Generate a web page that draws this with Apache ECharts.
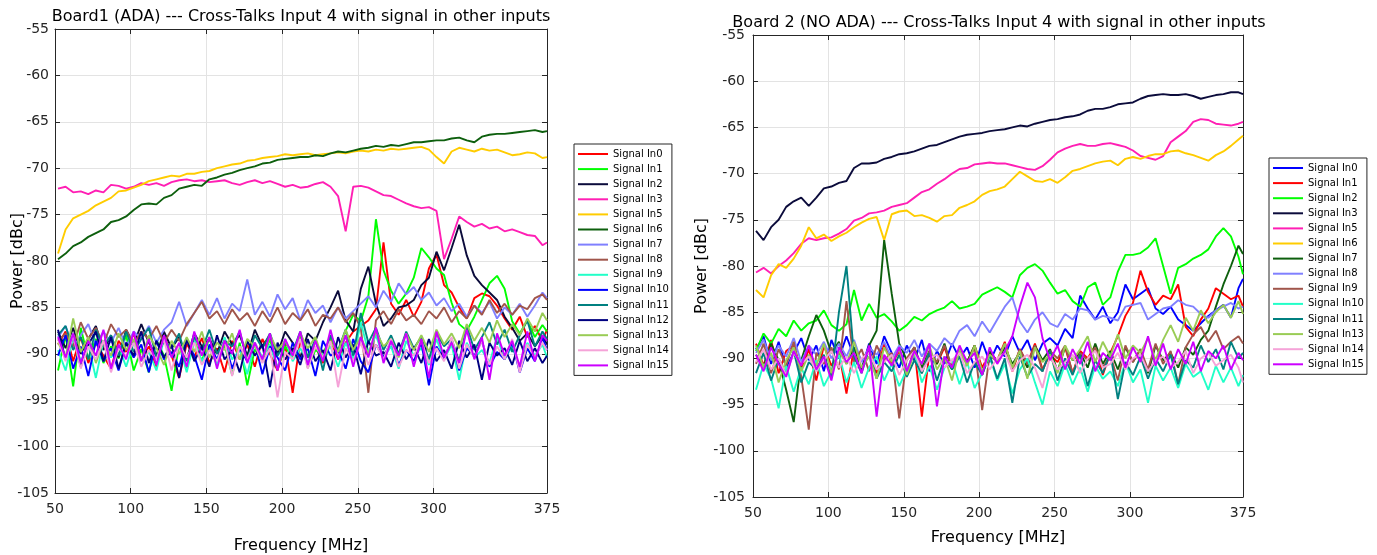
<!DOCTYPE html>
<html><head><meta charset="utf-8">
<script src="https://cdn.jsdelivr.net/npm/echarts@6/dist/echarts.min.js"></script>
<style>html,body{margin:0;padding:0;background:#fff}#c{width:1377px;height:555px}</style>
</head><body><div id="c"></div>
<script>
// Frequency samples [MHz]
const freq = [52,57,62,67,72,77,82,87,92,97,102,107,112,117,122,127,132,137,142,147,152,157,162,167,172,177,182,187,192,197,202,207,212,217,222,227,232,237,242,247,252,257,262,267,272,277,282,287,292,297,302,307,312,317,322,327,332,337,342,347,352,357,362,367,372,375];
const xTickValues = [50,100,150,200,250,300,375];

// ---------- Board 1 (ADA) ----------
const b1Names = ['Signal In0','Signal In1','Signal In2','Signal In3','Signal In5','Signal In6','Signal In7','Signal In8','Signal In9','Signal In10','Signal In11','Signal In12','Signal In13','Signal In14','Signal In15'];
const b1_in0 = [-89.0,-87.6,-90.8,-88.2,-91.0,-88.8,-90.2,-91.6,-88.6,-89.8,
-87.8,-90.6,-89.2,-91.4,-88.0,-90.2,-92.6,-88.9,-90.4,-88.3,
-91.0,-89.4,-92.0,-88.6,-90.6,-89.0,-91.4,-88.4,-90.0,-91.8,
-89.0,-94.2,-88.6,-90.4,-89.2,-91.0,-88.5,-90.6,-88.8,-87.6,
-87.0,-86.4,-85.2,-78.0,-84.6,-85.8,-84.2,-86.0,-84.4,-80.8,
-79.3,-82.6,-83.4,-85.0,-86.2,-84.0,-83.5,-83.8,-84.8,-86.2,
-87.4,-86.0,-88.2,-87.0,-88.6,-87.4];
const b1_in1 = [-91.8,-88.0,-93.5,-87.2,-90.6,-88.4,-91.0,-89.2,-90.5,-88.0,
-91.8,-89.5,-92.0,-88.5,-90.2,-94.0,-89.0,-91.5,-88.6,-90.8,
-88.2,-91.2,-89.0,-92.3,-88.8,-93.4,-89.5,-90.7,-88.4,-91.6,
-89.2,-90.4,-88.0,-91.5,-89.6,-90.0,-88.2,-89.8,-87.5,-85.8,
-86.5,-83.8,-75.5,-81.0,-83.2,-84.6,-83.5,-81.8,-78.6,-79.6,
-80.8,-81.5,-84.5,-86.8,-87.5,-86.0,-84.2,-82.4,-81.6,-83.0,
-86.5,-87.8,-86.4,-88.2,-86.9,-87.6];
const b1_in2 = [-87.6,-89.4,-87.2,-90.0,-88.4,-87.0,-89.6,-88.0,-90.4,-87.4,
-89.0,-86.8,-88.8,-90.2,-87.6,-89.4,-88.2,-90.6,-87.8,-89.2,
-88.4,-90.0,-87.6,-89.0,-88.0,-90.2,-87.4,-89.2,-88.0,-90.0,
-87.6,-88.8,-90.4,-87.8,-88.6,-86.6,-85.0,-83.2,-86.4,-87.6,
-83.0,-80.6,-84.6,-87.0,-86.2,-85.0,-84.8,-84.2,-82.6,-81.8,
-79.0,-81.0,-78.6,-76.1,-79.4,-81.6,-82.6,-83.4,-84.2,-86.0,
-87.2,-88.6,-87.8,-89.2,-88.0,-89.0];
const b1_in3 = [-72.2,-72.0,-72.6,-72.5,-72.8,-72.4,-72.6,-71.8,-71.9,-72.2,
-72.0,-71.6,-71.8,-71.6,-71.9,-71.5,-71.3,-71.2,-71.4,-71.3,
-71.5,-71.4,-71.3,-71.6,-71.8,-71.5,-71.3,-71.6,-71.4,-71.7,
-72.0,-71.8,-72.1,-72.0,-71.7,-71.5,-72.0,-73.0,-76.8,-72.0,
-71.9,-72.1,-72.5,-72.9,-73.0,-73.4,-73.8,-74.1,-74.3,-74.2,
-74.6,-79.8,-77.6,-75.2,-75.8,-76.3,-76.0,-76.5,-76.3,-76.8,
-76.6,-76.9,-77.2,-77.3,-78.3,-78.0];
const b1_in5 = [-79.2,-76.6,-75.4,-75.0,-74.6,-74.0,-73.6,-73.2,-72.5,-72.4,
-72.1,-71.8,-71.4,-71.2,-71.0,-70.8,-70.9,-70.6,-70.6,-70.4,
-70.3,-70.0,-69.8,-69.6,-69.5,-69.2,-69.1,-68.9,-68.8,-68.7,
-68.5,-68.6,-68.5,-68.4,-68.6,-68.5,-68.4,-68.3,-68.4,-68.2,
-68.1,-68.2,-68.0,-68.1,-67.9,-68.0,-67.9,-67.8,-67.7,-68.0,
-68.8,-69.5,-68.2,-67.8,-68.0,-68.2,-67.9,-68.1,-68.0,-68.3,
-68.6,-68.5,-68.3,-68.4,-68.9,-68.8];
const b1_in6 = [-79.8,-79.2,-78.4,-78.0,-77.4,-77.0,-76.6,-75.8,-75.6,-75.2,
-74.5,-73.9,-73.8,-73.9,-73.2,-72.9,-72.2,-72.0,-71.8,-71.9,
-71.2,-71.0,-70.7,-70.5,-70.2,-70.0,-69.8,-69.5,-69.4,-69.1,
-69.0,-68.9,-68.8,-68.8,-68.6,-68.7,-68.4,-68.2,-68.3,-68.1,
-67.9,-67.8,-67.6,-67.7,-67.5,-67.6,-67.4,-67.2,-67.2,-67.1,
-67.0,-67.0,-66.8,-66.7,-67.0,-67.2,-66.6,-66.4,-66.3,-66.3,
-66.2,-66.1,-66.0,-65.9,-66.1,-66.0];
const b1_in7 = [-88.2,-87.0,-89.4,-88.0,-86.8,-89.0,-87.6,-88.8,-87.2,-89.2,
-87.6,-88.4,-87.0,-88.8,-87.4,-86.6,-84.4,-87.0,-85.6,-84.2,
-85.8,-84.0,-86.2,-84.6,-85.4,-82.0,-85.8,-84.4,-86.0,-83.6,
-85.2,-84.0,-86.4,-84.2,-85.6,-84.8,-86.6,-85.0,-86.2,-85.4,
-84.6,-83.8,-85.0,-83.2,-84.4,-82.4,-83.6,-82.8,-84.2,-83.4,
-84.8,-84.0,-85.4,-84.6,-86.0,-84.8,-85.6,-84.4,-86.2,-85.0,
-85.8,-84.6,-86.0,-84.8,-83.4,-84.0];
const b1_in8 = [-88.6,-87.8,-89.2,-86.6,-88.4,-87.2,-89.0,-86.8,-88.2,-87.4,
-89.0,-87.6,-88.4,-87.0,-88.8,-87.4,-88.6,-86.8,-85.6,-84.4,
-86.2,-85.4,-86.8,-85.2,-86.4,-85.6,-87.0,-85.4,-86.6,-85.0,
-86.8,-85.6,-86.4,-85.2,-87.0,-85.8,-86.2,-85.0,-86.6,-85.6,
-87.2,-94.2,-86.4,-85.4,-86.8,-85.2,-86.4,-85.8,-86.8,-85.4,
-86.2,-85.0,-86.6,-85.4,-86.2,-84.8,-85.8,-84.2,-85.6,-84.6,
-85.8,-84.8,-85.2,-84.0,-83.6,-84.2];
const b1_in9 = [-89.6,-91.8,-88.2,-90.8,-89.0,-92.6,-88.6,-90.4,-89.2,-91.4,
-88.8,-90.6,-89.8,-91.8,-88.4,-90.2,-89.0,-92.0,-88.6,-90.8,
-89.4,-91.2,-88.2,-90.6,-89.6,-92.2,-88.8,-90.4,-89.0,-91.6,
-88.4,-90.8,-89.4,-91.0,-88.6,-90.2,-89.2,-91.4,-88.8,-90.6,
-86.6,-89.8,-88.0,-90.4,-89.2,-91.6,-88.6,-90.2,-89.4,-91.2,
-88.4,-90.6,-89.0,-92.8,-88.8,-90.4,-89.6,-91.0,-88.2,-90.6,
-89.2,-91.4,-88.8,-90.2,-89.0,-90.4];
const b1_in10 = [-90.2,-88.0,-91.6,-89.2,-92.4,-88.6,-90.8,-89.4,-91.8,-88.8,
-90.4,-89.0,-92.0,-88.6,-90.6,-89.8,-91.4,-88.4,-90.2,-92.8,
-89.0,-90.6,-88.6,-91.6,-89.4,-90.8,-88.8,-92.2,-89.2,-90.4,
-91.8,-88.8,-90.6,-89.4,-92.4,-88.6,-90.2,-89.6,-91.6,-88.4,
-90.8,-92.0,-89.0,-90.4,-88.6,-91.2,-89.6,-90.8,-88.8,-93.4,
-89.2,-90.6,-88.4,-91.8,-89.4,-90.2,-88.6,-91.4,-89.8,-90.6,
-88.8,-92.0,-89.4,-90.8,-88.2,-89.6];
const b1_in11 = [-88.0,-87.0,-89.6,-88.2,-90.6,-87.4,-89.2,-88.0,-90.2,-87.6,
-89.8,-88.4,-87.2,-90.4,-88.6,-89.4,-87.8,-90.8,-88.2,-89.6,
-87.4,-90.0,-88.6,-89.2,-87.6,-90.6,-88.0,-89.4,-87.8,-90.2,
-88.8,-89.8,-87.6,-90.4,-88.4,-91.8,-88.0,-89.6,-87.4,-90.2,
-85.6,-88.8,-87.2,-89.6,-88.0,-90.0,-87.6,-89.4,-88.2,-90.6,
-87.8,-89.2,-88.4,-90.8,-87.0,-89.6,-88.2,-86.6,-89.0,-87.4,
-89.8,-88.0,-86.4,-89.2,-87.6,-88.4];
const b1_in12 = [-87.4,-90.6,-88.0,-91.4,-89.0,-87.6,-90.8,-88.2,-91.6,-88.8,
-90.2,-87.6,-91.0,-88.6,-90.4,-89.0,-92.6,-88.4,-90.8,-89.2,
-91.4,-88.0,-90.6,-89.6,-92.0,-88.6,-90.2,-89.0,-93.6,-88.8,
-90.6,-89.4,-91.2,-88.4,-90.8,-89.6,-91.8,-88.2,-90.4,-89.0,
-92.2,-88.6,-90.2,-89.8,-91.4,-88.8,-90.6,-89.2,-91.0,-88.4,
-90.8,-89.6,-91.6,-88.6,-90.4,-89.0,-92.8,-88.8,-90.2,-89.4,
-91.2,-88.6,-90.8,-89.4,-91.0,-90.2];
const b1_in13 = [-88.8,-90.4,-86.2,-89.8,-88.2,-91.0,-88.6,-90.2,-87.8,-89.6,
-88.4,-90.8,-88.0,-89.4,-91.2,-88.6,-90.0,-88.2,-89.8,-87.6,
-90.4,-88.8,-89.6,-87.8,-90.6,-88.4,-89.2,-90.8,-88.0,-89.6,
-88.6,-90.2,-87.8,-89.4,-88.2,-90.6,-88.8,-89.8,-87.4,-89.6,
-88.2,-90.0,-87.6,-89.2,-88.4,-90.4,-87.8,-89.6,-88.0,-89.8,
-87.4,-89.0,-87.8,-89.4,-86.8,-88.6,-87.2,-88.8,-86.4,-88.2,
-86.8,-88.0,-86.2,-87.6,-85.6,-86.4];
const b1_in14 = [-88.4,-90.8,-88.0,-91.6,-89.2,-90.6,-88.6,-92.0,-89.4,-90.2,
-88.8,-91.4,-89.6,-90.6,-88.4,-91.8,-89.0,-90.4,-88.8,-91.2,
-89.6,-90.8,-88.6,-92.4,-89.2,-90.6,-88.8,-91.0,-89.4,-94.7,
-89.8,-90.6,-88.4,-91.6,-89.2,-90.4,-88.6,-93.6,-89.4,-90.8,
-88.8,-91.2,-89.0,-90.6,-88.4,-91.4,-89.6,-90.2,-88.6,-91.0,
-89.4,-90.8,-88.2,-91.6,-89.0,-90.4,-88.6,-91.2,-89.2,-90.6,
-88.4,-92.0,-89.0,-90.4,-88.8,-89.6];
const b1_in15 = [-88.2,-90.4,-87.8,-91.0,-88.6,-90.2,-87.4,-91.6,-89.0,-90.6,
-87.6,-90.8,-88.4,-91.2,-88.0,-90.4,-88.8,-91.4,-87.6,-90.2,
-88.2,-91.6,-88.6,-90.0,-87.4,-91.0,-88.8,-90.6,-87.8,-91.8,
-88.4,-90.2,-87.6,-91.2,-88.6,-90.8,-87.4,-90.6,-88.0,-91.4,
-88.2,-90.4,-87.2,-91.0,-88.6,-90.2,-87.8,-91.4,-88.4,-92.6,
-87.6,-90.4,-88.8,-91.0,-87.4,-90.6,-88.2,-92.8,-87.8,-90.2,
-88.6,-91.4,-87.6,-90.8,-88.0,-88.6];
const b1Values = [b1_in0,b1_in1,b1_in2,b1_in3,b1_in5,b1_in6,b1_in7,b1_in8,b1_in9,b1_in10,b1_in11,b1_in12,b1_in13,b1_in14,b1_in15];
const b1Colors = ['#ff0000','#00ff00','#0b0b3b','#ff1fb4','#ffcc00','#0d5f0d','#8080ff','#a0554b','#22ffc8','#0000ff','#008080','#000080','#99cc55','#f5a3d8','#cc00ff'];

// ---------- Board 2 (NO ADA) ----------
const b2Names = ['Signal In0','Signal In1','Signal In2','Signal In3','Signal In5','Signal In6','Signal In7','Signal In8','Signal In9','Signal In10','Signal In11','Signal In13','Signal In14','Signal In15'];
const b2_in0 = [-89.0,-87.6,-90.6,-88.2,-91.0,-89.4,-87.8,-90.2,-88.6,-91.4,
-88.0,-90.0,-87.6,-89.8,-91.2,-88.4,-90.6,-87.6,-89.4,-91.0,
-88.6,-90.2,-88.0,-91.4,-89.2,-90.6,-88.4,-90.0,-88.8,-91.0,
-88.2,-90.4,-88.6,-89.8,-87.6,-89.4,-88.0,-90.2,-88.4,-87.8,
-88.6,-86.8,-87.8,-83.2,-84.6,-85.8,-84.4,-86.2,-85.0,-82.0,
-83.6,-83.0,-82.4,-84.6,-85.2,-84.4,-85.8,-86.4,-87.0,-86.2,
-85.4,-84.8,-84.2,-85.6,-82.4,-81.4];
const b2_in1 = [-88.4,-90.8,-88.0,-91.6,-89.2,-88.6,-91.2,-89.0,-92.4,-88.6,
-90.8,-89.4,-93.8,-88.8,-90.2,-89.0,-91.6,-88.4,-90.6,-89.2,
-91.8,-88.8,-96.3,-89.4,-90.6,-88.8,-91.2,-89.0,-90.4,-88.6,
-91.0,-89.4,-90.2,-88.2,-91.4,-89.0,-90.6,-88.4,-91.2,-89.6,
-90.4,-88.8,-91.6,-89.2,-90.0,-88.6,-91.8,-89.4,-87.6,-85.4,
-84.0,-80.5,-82.8,-84.2,-83.2,-83.6,-82.0,-86.6,-87.6,-85.8,
-84.6,-82.4,-83.0,-83.6,-83.2,-84.4];
const b2_in2 = [-89.2,-87.3,-88.4,-86.8,-87.6,-85.9,-87.0,-86.2,-85.9,-84.8,
-86.4,-87.0,-86.3,-82.6,-85.9,-84.1,-85.6,-85.2,-86.0,-87.0,
-86.4,-85.5,-85.9,-85.2,-84.8,-84.5,-83.8,-84.6,-84.4,-84.1,
-83.1,-82.7,-82.3,-82.8,-83.4,-81.0,-80.2,-79.8,-80.5,-81.8,
-83.0,-82.6,-83.8,-84.4,-82.3,-81.8,-84.2,-83.4,-80.6,-78.8,
-78.8,-78.6,-78.0,-77.0,-80.0,-83.0,-80.2,-79.8,-79.2,-78.8,
-78.2,-76.8,-75.9,-76.8,-79.0,-80.9];
const b2_in3 = [-76.2,-77.2,-75.8,-75.0,-73.6,-73.0,-72.6,-73.5,-72.6,-71.6,
-71.4,-71.0,-70.8,-69.4,-68.9,-68.9,-68.8,-68.4,-68.2,-67.9,
-67.8,-67.6,-67.3,-67.0,-66.9,-66.6,-66.3,-66.0,-65.8,-65.7,
-65.6,-65.4,-65.3,-65.2,-65.0,-64.8,-64.9,-64.6,-64.4,-64.2,
-64.1,-63.9,-63.8,-63.6,-63.2,-63.0,-63.0,-62.8,-62.5,-62.4,
-62.3,-61.9,-61.6,-61.5,-61.4,-61.5,-61.5,-61.4,-61.6,-61.9,
-61.7,-61.5,-61.4,-61.2,-61.2,-61.4];
const b2_in5 = [-80.7,-80.2,-80.8,-80.0,-79.4,-78.6,-77.6,-77.0,-77.2,-77.0,
-76.9,-76.5,-76.0,-75.1,-74.8,-74.3,-74.2,-74.0,-73.6,-73.4,
-73.2,-72.6,-72.0,-71.7,-71.1,-70.6,-70.0,-69.5,-69.4,-69.0,
-68.9,-68.8,-68.9,-68.9,-69.1,-69.3,-69.5,-69.6,-69.2,-68.5,
-67.7,-67.3,-67.0,-66.8,-67.0,-67.0,-66.8,-66.7,-66.9,-67.1,
-67.5,-68.1,-68.3,-68.5,-68.1,-66.6,-66.0,-65.4,-64.4,-64.1,
-64.2,-64.6,-64.7,-64.8,-64.6,-64.4];
const b2_in6 = [-82.6,-83.4,-81.0,-79.8,-80.2,-79.2,-77.8,-75.8,-77.0,-76.6,
-77.3,-76.8,-76.4,-75.8,-75.3,-74.9,-74.7,-77.2,-74.4,-74.1,
-74.0,-74.6,-74.5,-74.8,-75.2,-74.6,-74.5,-73.7,-73.4,-73.0,
-72.3,-71.9,-71.7,-71.4,-70.6,-69.8,-70.3,-70.8,-70.9,-70.6,
-71.0,-70.4,-69.7,-69.5,-69.2,-68.9,-68.7,-68.6,-69.1,-68.4,
-68.2,-68.4,-68.1,-67.9,-67.9,-67.6,-67.5,-67.8,-68.0,-68.3,
-68.6,-68.0,-67.6,-67.0,-66.3,-65.9];
const b2_in7 = [-89.6,-91.0,-88.4,-90.2,-93.4,-96.9,-90.2,-87.6,-85.3,-87.0,
-89.4,-88.2,-90.6,-88.8,-91.2,-88.6,-87.0,-77.2,-83.0,-88.4,
-90.2,-88.8,-91.0,-89.2,-90.6,-88.4,-91.2,-89.0,-90.4,-88.6,
-91.8,-89.2,-90.4,-88.8,-90.6,-89.4,-91.0,-88.6,-90.2,-89.0,
-91.4,-88.8,-90.2,-89.4,-91.0,-88.4,-90.6,-89.2,-91.2,-88.8,
-90.4,-89.0,-91.6,-88.6,-90.2,-89.4,-91.0,-88.8,-89.6,-88.0,
-87.0,-84.4,-82.0,-80.0,-77.8,-78.7];
const b2_in8 = [-89.4,-88.0,-90.2,-88.6,-89.8,-87.8,-90.4,-88.6,-89.6,-88.2,
-90.0,-88.4,-89.8,-88.0,-90.4,-88.8,-89.6,-88.2,-90.0,-88.6,
-89.4,-88.0,-89.8,-88.4,-89.2,-87.8,-88.6,-87.0,-86.4,-87.6,
-86.0,-87.2,-85.8,-84.4,-83.4,-86.0,-87.2,-85.8,-85.0,-86.2,
-86.6,-85.2,-85.8,-84.6,-84.8,-85.8,-85.4,-85.6,-85.9,-84.4,
-84.2,-84.0,-85.8,-85.2,-84.6,-84.4,-83.7,-84.2,-84.4,-85.2,
-85.6,-84.8,-84.4,-84.0,-84.6,-84.4];
const b2_in9 = [-90.6,-88.4,-91.6,-89.0,-90.8,-88.2,-92.0,-97.7,-89.4,-90.6,
-88.8,-91.2,-83.8,-90.4,-89.0,-91.4,-88.6,-90.2,-89.4,-96.5,
-90.0,-88.8,-91.6,-89.2,-90.4,-88.6,-91.0,-89.4,-90.6,-88.8,
-95.6,-89.6,-90.4,-88.4,-91.2,-89.0,-90.6,-88.6,-91.4,-89.2,
-90.0,-88.6,-91.6,-89.4,-90.2,-88.8,-91.0,-89.6,-92.4,-88.6,
-90.4,-89.0,-91.2,-88.4,-90.6,-89.2,-92.8,-88.8,-87.4,-86.6,
-88.2,-87.0,-89.0,-88.2,-87.6,-88.4];
const b2_in10 = [-93.4,-90.6,-92.2,-95.4,-90.8,-93.6,-91.0,-92.8,-90.2,-93.0,
-91.4,-89.6,-92.6,-90.4,-93.2,-91.0,-89.8,-92.4,-90.6,-93.0,
-91.2,-89.4,-92.6,-90.8,-93.4,-91.0,-90.2,-92.8,-90.4,-93.2,
-91.6,-89.8,-92.4,-90.6,-93.8,-91.2,-90.0,-92.6,-95.0,-91.4,
-93.0,-90.6,-92.8,-91.0,-93.6,-90.8,-92.2,-91.4,-93.0,-90.4,
-92.6,-91.2,-94.8,-90.8,-92.4,-91.0,-93.2,-90.6,-92.0,-91.4,
-93.4,-90.8,-92.6,-91.0,-93.0,-91.8];
const b2_in11 = [-91.6,-89.4,-92.4,-90.0,-91.8,-89.2,-92.6,-90.4,-91.2,-89.6,
-92.0,-85.0,-80.0,-89.8,-91.6,-89.0,-92.2,-90.4,-91.4,-89.6,
-92.0,-90.2,-91.6,-89.4,-92.4,-90.0,-91.2,-89.8,-92.6,-90.4,
-91.8,-89.6,-92.2,-90.0,-94.8,-89.8,-92.0,-90.6,-91.4,-89.2,
-92.4,-90.0,-91.8,-89.6,-93.0,-90.2,-91.6,-89.4,-94.4,-90.4,
-91.8,-89.8,-92.2,-90.0,-91.4,-89.6,-92.8,-90.2,-91.0,-88.6,
-90.4,-89.0,-91.2,-88.2,-90.0,-89.4];
const b2_in13 = [-88.6,-91.0,-89.4,-92.6,-90.2,-88.8,-91.4,-89.6,-90.8,-88.4,
-91.6,-89.2,-90.6,-88.2,-91.0,-89.8,-92.2,-88.8,-90.4,-89.0,
-91.8,-89.4,-90.6,-88.6,-91.2,-89.8,-92.4,-89.0,-90.8,-88.6,
-91.4,-89.6,-90.2,-88.4,-91.0,-89.2,-92.2,-88.8,-90.4,-89.6,
-91.6,-88.6,-90.2,-89.0,-87.6,-90.4,-88.2,-89.8,-87.4,-90.0,
-88.6,-89.4,-87.8,-90.2,-88.0,-86.4,-88.2,-85.6,-87.0,-84.8,
-86.2,-85.0,-84.2,-85.6,-83.8,-85.2];
const b2_in14 = [-90.4,-89.0,-91.2,-90.0,-91.8,-89.4,-90.6,-89.8,-91.4,-90.2,
-89.2,-91.0,-89.8,-91.6,-90.0,-89.4,-91.2,-90.4,-89.6,-91.8,
-90.2,-89.2,-91.4,-90.0,-89.6,-91.0,-90.2,-89.4,-91.6,-90.4,
-89.8,-91.2,-90.0,-89.4,-91.4,-90.2,-89.6,-91.0,-93.2,-89.8,
-91.2,-90.4,-89.6,-91.6,-90.0,-89.2,-91.0,-90.6,-89.4,-91.2,
-90.0,-89.6,-91.4,-90.2,-89.8,-91.0,-90.4,-89.2,-91.6,-90.0,
-89.4,-90.8,-90.2,-89.6,-91.0,-92.6];
const b2_in15 = [-89.6,-91.4,-88.8,-90.6,-92.0,-89.2,-90.8,-88.6,-91.2,-89.8,
-92.4,-88.8,-90.4,-89.4,-91.6,-88.6,-96.3,-89.6,-90.8,-88.8,
-91.4,-89.2,-90.6,-88.4,-95.2,-89.8,-91.0,-88.6,-90.4,-89.4,
-91.8,-88.8,-90.6,-89.2,-87.6,-84.4,-81.8,-83.4,-87.8,-90.2,
-88.6,-91.2,-89.0,-90.6,-88.2,-91.4,-89.4,-90.2,-88.4,-91.0,
-88.8,-90.4,-87.6,-90.8,-88.4,-91.2,-89.0,-90.6,-88.2,-91.4,
-89.2,-90.0,-88.6,-91.2,-89.4,-90.2];
const b2Values = [b2_in0,b2_in1,b2_in2,b2_in3,b2_in5,b2_in6,b2_in7,b2_in8,b2_in9,b2_in10,b2_in11,b2_in13,b2_in14,b2_in15];
const b2Colors = ['#0000ff','#ff0000','#00ff00','#0b0b3b','#ff1fb4','#ffcc00','#0d5f0d','#8080ff','#a0554b','#22ffc8','#008080','#99cc55','#f5a3d8','#cc00ff'];

// ---------- Chart ----------
const FONT = 'DejaVu Sans';
const AX = '#262626';
function xAxes(gi, nameGap) {
  return [{
    gridIndex: gi, type: 'value', min: 50, max: 375, position: 'bottom',
    axisLine: {show: true, onZero: false, lineStyle: {color: AX, width: 1}},
    axisTick: {show: true, inside: true, length: 5, customValues: xTickValues, lineStyle: {color: AX}},
    axisLabel: {customValues: xTickValues, color: AX, fontSize: 14, fontFamily: FONT, margin: 9},
    splitLine: {show: true, lineStyle: {color: '#e3e3e3', width: 1}},
    name: 'Frequency [MHz]', nameLocation: 'middle', nameGap: nameGap, nameMoveOverlap: false,
    nameTextStyle: {color: '#000', fontSize: 16, fontFamily: FONT}
  }, {
    gridIndex: gi, type: 'value', min: 50, max: 375, position: 'top',
    axisLine: {show: true, onZero: false, lineStyle: {color: AX, width: 1}},
    axisTick: {show: true, inside: true, length: 5, customValues: xTickValues, lineStyle: {color: AX}},
    axisLabel: {show: false}, splitLine: {show: false}
  }];
}
function yAxes(gi, nameGap, labelMargin) {
  return [{
    gridIndex: gi, type: 'value', min: -105, max: -55, interval: 5, position: 'left',
    axisLine: {show: true, onZero: false, lineStyle: {color: AX, width: 1}},
    axisTick: {show: true, inside: true, length: 5, lineStyle: {color: AX}},
    axisLabel: {color: AX, fontSize: 14, fontFamily: FONT, margin: labelMargin},
    splitLine: {show: true, lineStyle: {color: '#e3e3e3', width: 1}},
    name: 'Power [dBc]', nameLocation: 'middle', nameGap: nameGap, nameMoveOverlap: false,
    nameTextStyle: {color: '#000', fontSize: 16, fontFamily: FONT}
  }, {
    gridIndex: gi, type: 'value', min: -105, max: -55, interval: 5, position: 'right',
    axisLine: {show: true, onZero: false, lineStyle: {color: AX, width: 1}},
    axisTick: {show: true, inside: true, length: 5, lineStyle: {color: AX}},
    axisLabel: {show: false}, splitLine: {show: false}
  }];
}
function makeSeries(names, values, colors, gi, prefix) {
  return names.map((n, i) => ({
    name: prefix + n, type: 'line', xAxisIndex: gi * 2, yAxisIndex: gi * 2,
    data: freq.map((f, k) => [f, values[i][k]]),
    symbol: 'none', showSymbol: false,
    lineStyle: {color: colors[i], width: 1.9}, itemStyle: {color: colors[i]},
    emphasis: {disabled: true}, silent: true, animation: false
  }));
}
function legendCfg(names, prefix, left, top) {
  return {
    data: names.map(n => prefix + n), orient: 'vertical', left: left, top: top,
    icon: 'path://M0,0 L30,0 L30,2 L0,2 Z',
    itemWidth: 30, itemHeight: 2.2, itemGap: 3.1, padding: [4, 3, 4, 4],
    borderColor: AX, borderWidth: 1, backgroundColor: '#fff',
    selectedMode: false,
    textStyle: {fontSize: 10, fontFamily: FONT, color: '#000', lineHeight: 12},
    formatter: name => name.replace(/^B2 /, '')
  };
}
const chart = echarts.init(document.getElementById('c'), null, {renderer: 'canvas'});
chart.setOption({
  animation: false,
  backgroundColor: '#fff',
  title: [
    {text: 'Board1 (ADA) --- Cross-Talks Input 4 with signal in other inputs', left: 296, top: 4, textAlign: 'center',
     textStyle: {fontSize: 16, fontWeight: 'normal', color: '#000', fontFamily: FONT}},
    {text: 'Board 2 (NO ADA) --- Cross-Talks Input 4 with signal in other inputs', left: 994, top: 10, textAlign: 'center',
     textStyle: {fontSize: 16, fontWeight: 'normal', color: '#000', fontFamily: FONT}}
  ],
  grid: [
    {left: 55, top: 29, width: 492, height: 464, show: false, outerBoundsMode: 'none', containLabel: false},
    {left: 753, top: 35, width: 490, height: 462, show: false, outerBoundsMode: 'none', containLabel: false}
  ],
  xAxis: [...xAxes(0, 45), ...xAxes(1, 33)],
  yAxis: [...yAxes(0, 29, 6), ...yAxes(1, 43, 8)],
  legend: [legendCfg(b1Names, '', 574, 144), legendCfg(b2Names, 'B2 ', 1269, 158)],
  series: [...makeSeries(b1Names, b1Values, b1Colors, 0, ''), ...makeSeries(b2Names, b2Values, b2Colors, 1, 'B2 ')]
});
</script>
</body></html>
